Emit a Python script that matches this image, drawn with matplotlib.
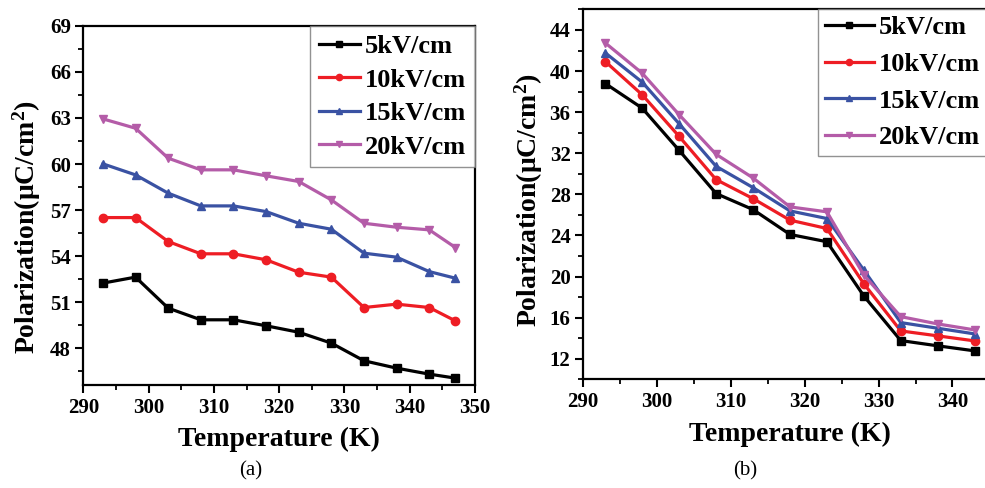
import matplotlib
matplotlib.use("Agg")
import matplotlib.pyplot as plt
from matplotlib.ticker import MultipleLocator

plt.rcParams['font.family'] = ['Liberation Serif', 'DejaVu Serif']
plt.rcParams['font.weight'] = 'bold'
plt.rcParams['mathtext.fontset'] = 'custom'
plt.rcParams['mathtext.rm'] = 'Liberation Serif:bold'
plt.rcParams['mathtext.bf'] = 'Liberation Serif:bold'
plt.rcParams['mathtext.it'] = 'Liberation Serif:bold:italic'

# Panel (a)
temp_a = [293, 298, 303, 308, 313, 318, 323, 328, 333, 338, 343, 347]
pol_a_5 = [52.24, 52.63, 50.61, 49.85, 49.85, 49.46, 49.04, 48.33, 47.18, 46.70, 46.31, 46.05]
pol_a_10 = [56.51, 56.51, 54.95, 54.15, 54.15, 53.76, 52.95, 52.63, 50.65, 50.87, 50.65, 49.78]
pol_a_15 = [60.01, 59.29, 58.10, 57.27, 57.27, 56.90, 56.14, 55.75, 54.19, 53.93, 52.99, 52.56]
pol_a_20 = [62.94, 62.33, 60.38, 59.62, 59.62, 59.23, 58.86, 57.66, 56.14, 55.88, 55.71, 54.56]

# Panel (b)
temp_b = [293, 298, 303, 308, 313, 318, 323, 328, 333, 338, 343]
pol_b_5 = [38.79, 36.39, 32.28, 28.08, 26.52, 24.10, 23.39, 18.11, 13.77, 13.26, 12.77]
pol_b_10 = [40.93, 37.69, 33.64, 29.44, 27.59, 25.49, 24.68, 19.30, 14.71, 14.23, 13.74]
pol_b_15 = [41.77, 38.92, 34.87, 30.73, 28.66, 26.39, 25.65, 20.63, 15.52, 14.97, 14.42]
pol_b_20 = [42.74, 39.79, 35.75, 31.90, 29.60, 26.78, 26.30, 20.15, 16.10, 15.39, 14.81]

labels = ['5kV/cm', '10kV/cm', '15kV/cm', '20kV/cm']
colors = ['#000000', '#EE1D24', '#3A52A3', '#B45CA8']
markers = ['s', 'o', '^', 'v']

xticks_a = [290, 300, 310, 320, 330, 340, 350]
yticks_a = [48, 51, 54, 57, 60, 63, 66, 69]
xticks_b = [290, 300, 310, 320, 330, 340]
yticks_b = [12, 16, 20, 24, 28, 32, 36, 40, 44]

fig = plt.figure(figsize=(9.85, 4.88), dpi=100)
ax_a = fig.add_axes([0.0846, 0.211, 0.3976, 0.736])
ax_b = fig.add_axes([0.592, 0.2227, 0.420, 0.758])


def style_axis(ax, xt, yt, xlim, ylim, xminor, yminor, ylab_xy):
    ax.set_xlim(*xlim)
    ax.set_ylim(*ylim)
    ax.set_xticks(xt)
    ax.set_yticks(yt)
    ax.xaxis.set_minor_locator(MultipleLocator(xminor))
    ax.yaxis.set_minor_locator(MultipleLocator(yminor))
    ax.tick_params(which='major', direction='out', length=6, width=1.5,
                   labelsize=15, pad=3, top=False, right=False)
    ax.tick_params(which='minor', direction='out', length=3.5, width=1.3,
                   top=False, right=False)
    for s in ax.spines.values():
        s.set_linewidth(1.6)
    for lab in ax.get_xticklabels() + ax.get_yticklabels():
        lab.set_fontweight('bold')
    ax.set_xlabel('Temperature (K)', fontsize=20, fontweight='bold', labelpad=7)
    ax.set_ylabel(r'Polarization(μC/cm$^{\mathbf{2}}$)', fontsize=20,
                  fontweight='bold')
    ax.yaxis.set_label_coords(*ylab_xy)


series_a = [pol_a_5, pol_a_10, pol_a_15, pol_a_20]
series_b = [pol_b_5, pol_b_10, pol_b_15, pol_b_20]

for ys, lab, c, m in zip(series_a, labels, colors, markers):
    ax_a.plot(temp_a, ys, color=c, marker=m, markersize=6, linewidth=2.3, label=lab)
for ys, lab, c, m in zip(series_b, labels, colors, markers):
    ax_b.plot(temp_b, ys, color=c, marker=m, markersize=6, linewidth=2.3, label=lab)

style_axis(ax_a, xticks_a, yticks_a, (290, 350), (45.6, 69), 5, 1.5, (-0.104, 0.44))
style_axis(ax_b, xticks_b, yticks_b, (290, 346), (10, 46), 5, 2, (-0.092, 0.485))

legend_opts = [(ax_a, 0.38, 0.33, 1.55, (1.0, 1.0)),
               (ax_b, 0.50, 0.24, 1.85, (0.975, 1.0))]
for ax, sp, bp, hl, anchor in legend_opts:
    leg = ax.legend(loc='upper right', bbox_to_anchor=anchor, borderaxespad=0,
                    fancybox=False, edgecolor='#777777', handlelength=hl,
                    handletextpad=0.2, labelspacing=sp, borderpad=bp,
                    markerscale=0.75, prop={'weight': 'bold', 'size': 19})
    leg.get_frame().set_linewidth(1.0)

fig.text(0.254, 0.035, '(a)', ha='center', va='center', fontsize=15,
         fontweight='normal')
fig.text(0.757, 0.035, '(b)', ha='center', va='center', fontsize=15,
         fontweight='normal')

fig.savefig('out.png', dpi=100)
